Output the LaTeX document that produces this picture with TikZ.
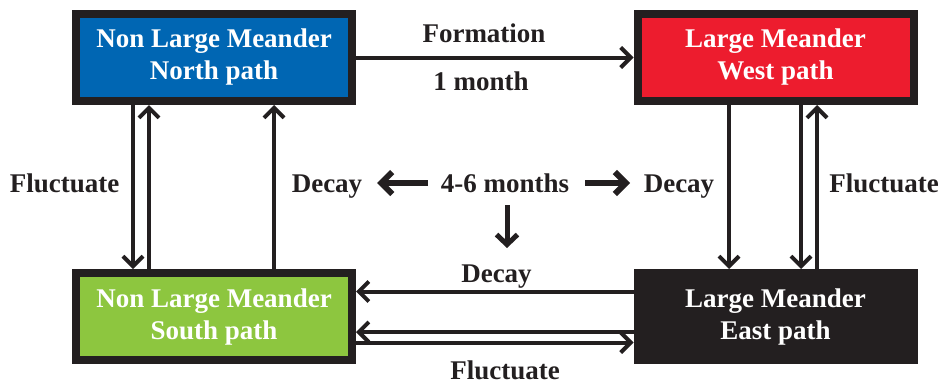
\documentclass[tikz,border=0pt]{standalone}
\usepackage{fontspec}
\setmainfont{Liberation Serif}
\usetikzlibrary{arrows.meta,calc}
\definecolor{dk}{HTML}{231F20}
\definecolor{nblue}{HTML}{0066B3}
\definecolor{wred}{HTML}{ED1C2E}
\definecolor{sgreen}{HTML}{8DC63F}
\begin{document}
\begin{tikzpicture}[x=1pt,y=-1pt,
  every node/.style={font=\fontsize{27pt}{32pt}\selectfont\bfseries, text=dk},
  statebox/.style={draw=dk, line width=8pt, minimum width=276pt, minimum height=87pt,
    inner sep=0pt, outer sep=4pt, align=center, text=white},
  lbl/.style={anchor=base, inner sep=0pt},
  conn/.style={draw=dk, line width=4pt, -{Straight Barb[length=10pt,width=20pt,line width=4pt]}},
  bigconn/.style={draw=dk, line width=6pt, -{Straight Barb[length=11pt,width=22pt,line width=6pt]}},
  midconn/.style={draw=dk, line width=5pt, -{Straight Barb[length=10pt,width=21pt,line width=5pt]}}
]
\useasboundingbox (0,0) rectangle (941,383);
\node[statebox, fill=nblue] (N) at (214,57.5) {Non Large Meander\\North path};
\node[statebox, fill=wred] (W) at (775.5,57.5) {Large Meander\\West path};
\node[statebox, fill=sgreen] (S) at (214,316.5) {Non Large Meander\\South path};
\node[statebox, fill=dk] (E) at (775.5,316.5) {Large Meander\\East path};

% labels
\node[lbl] (lform) at (484,42) {Formation};
\node[lbl] (lmonth) at (481,90) {1 month};
\node[lbl] (lflL) at (64.5,192) {Fluctuate};
\node[lbl] (ldecL) at (327,192) {Decay};
\node[lbl] (lmid) at (505,192) {4-6 months};
\node[lbl] (ldecR) at (679,192) {Decay};
\node[lbl] (lflR) at (884,192) {Fluctuate};
\node[lbl] (ldecB) at (496.5,282) {Decay};
\node[lbl] (lflB) at (505,379) {Fluctuate};

% connectors
\draw[conn] (N.east) -- (W.west);
\draw[conn] ([xshift=-81pt]N.south) -- ([xshift=-81pt]S.north);
\draw[conn] ([xshift=-65pt]S.north) -- ([xshift=-65pt]N.south);
\draw[conn] ([xshift=60pt]S.north) -- ([xshift=60pt]N.south);
\draw[conn] ([xshift=-46.5pt]W.south) -- ([xshift=-46.5pt]E.north);
\draw[conn] ([xshift=25.5pt]W.south) -- ([xshift=25.5pt]E.north);
\draw[conn] ([xshift=41.5pt]E.north) -- ([xshift=41.5pt]W.south);
\draw[conn] ([yshift=25pt]E.west) -- ([yshift=25pt]S.east);
\draw[conn] ([yshift=-15.5pt]E.west) -- ([yshift=-15.5pt]S.east);
\draw[conn] ([yshift=-26pt]S.east) -- ([yshift=-26pt]E.west);

% 4-6 months arrows
\coordinate (aL0) at (428,183);
\coordinate (aL1) at (377,183);
\coordinate (aR0) at (585,183);
\coordinate (aR1) at (630,183);
\coordinate (aD0) at (507,205);
\coordinate (aD1) at (507,248);
\draw[bigconn] (aL0) -- (aL1);
\draw[bigconn] (aR0) -- (aR1);
\draw[midconn] (aD0) -- (aD1);
\end{tikzpicture}
\end{document}
